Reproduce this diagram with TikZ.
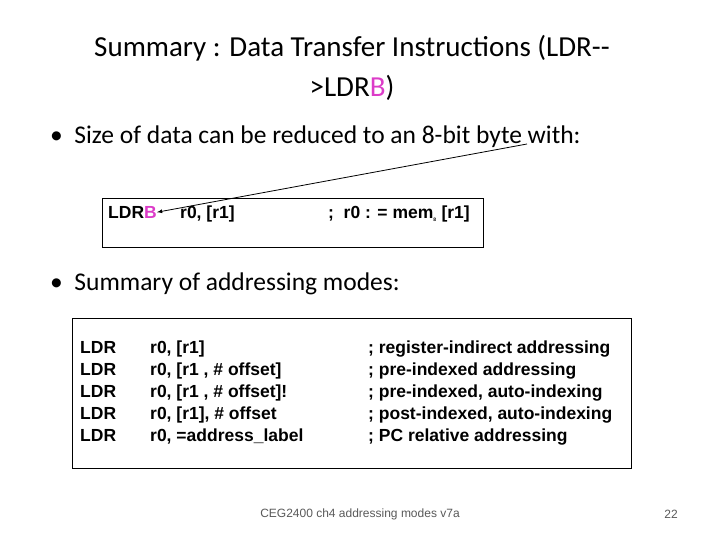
\documentclass[tikz,border=0pt]{standalone}
\usepackage{fontspec}
\setmainfont{Carlito}
\newfontfamily\arialfont{Liberation Sans}
\definecolor{pinkB}{RGB}{220,60,200}
\tikzset{%
  codebox/.style = {draw, line width=0.8pt},%
  code/.style    = {font=\arialfont\bfseries\fontsize{17.5}{22}\selectfont, anchor=north west, inner sep=0pt, align=left},%
  bullet/.style  = {font=\fontsize{25.5}{28}\selectfont, anchor=west, inner sep=0pt}%
}
\begin{document}
\begin{tikzpicture}[x=1pt,y=-1pt]
	\useasboundingbox (0,0) rectangle (720,540);
	% title
	\node (title) at (352,68) [align=center, font=\fontsize{29}{40}\selectfont]
		{Summary : Data Transfer Instructions (LDR{-}{-}\\>LDR{\color{pinkB}B})};
	% first bullet
	\node (b1) [bullet] at (50,137) {\textbullet\ \ Size of data can be reduced to an 8-bit byte with:};
	\draw [codebox] (102,198) rectangle (483,247);
	\node (ldrb) [code] at (108,206) {LDR{\color{pinkB}B}};
	\node (args) [code] at (180,206) {r0, [r1]};
	\node (cmt) [code] at (328,206) {;\ \ r0 : = mem$_{\mbox{\tiny 8}}$ [r1]};
	\coordinate (byte) at (527,144);
	\draw [-latex, line width=0.8pt] (byte) -- (ldrb.east);
	% second bullet
	\node (b2) [bullet] at (50,284) {\textbullet\ \ Summary of addressing modes:};
	\draw [codebox] (72,318) rectangle (631,468);
	\node (ops) [code] at (80,341) {LDR\\LDR\\LDR\\LDR\\LDR};
	\node (opnd) [code] at (150,341) {r0, [r1]\\r0, [r1 , \# offset]\\r0, [r1 , \# offset]!\\r0, [r1], \# offset\\r0, =address\_label};
	\node (notes) [code] at (368,341) {; register-indirect addressing\\; pre-indexed addressing\\; pre-indexed, auto-indexing\\; post-indexed, auto-indexing\\; PC relative addressing};
	% footer
	\node (foot) at (360,514) [font=\arialfont\fontsize{12}{14}\selectfont, text=gray!70!black] {CEG2400 ch4 addressing modes v7a};
	\node (page) at (671,514) [font=\arialfont\fontsize{12}{14}\selectfont, text=gray!70!black] {22};
\end{tikzpicture}
\end{document}
